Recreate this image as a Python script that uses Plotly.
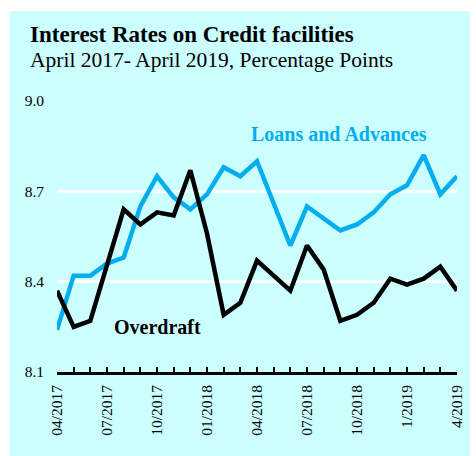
import plotly.graph_objects as go

# Monthly observations, April 2017 to April 2019
months = [
    "04/2017", "05/2017", "06/2017", "07/2017", "08/2017", "09/2017",
    "10/2017", "11/2017", "12/2017", "01/2018", "02/2018", "03/2018",
    "04/2018", "05/2018", "06/2018", "07/2018", "08/2018", "09/2018",
    "10/2018", "11/2018", "12/2018", "1/2019", "2/2019", "3/2019", "4/2019",
]
tick_labels = ["04/2017", "07/2017", "10/2017", "01/2018", "04/2018",
               "07/2018", "10/2018", "1/2019", "4/2019"]

loans_advances = [8.24, 8.42, 8.42, 8.46, 8.48, 8.65, 8.75, 8.68, 8.64,
                  8.69, 8.78, 8.75, 8.80, 8.66, 8.52, 8.65, 8.61, 8.57,
                  8.59, 8.63, 8.69, 8.72, 8.82, 8.69, 8.75]
overdraft = [8.37, 8.25, 8.27, 8.45, 8.64, 8.59, 8.63, 8.62, 8.77,
             8.56, 8.29, 8.33, 8.47, 8.42, 8.37, 8.52, 8.44, 8.27,
             8.29, 8.33, 8.41, 8.39, 8.41, 8.45, 8.37]

y_ticks = [8.1, 8.4, 8.7, 9.0]

W, H = 476, 456
ML, MR, MT, MB = 57, 11, 101, 84
PW, PH = W - ML - MR, H - MT - MB

BG = "#CCFFFF"
BLUE = "#00AEEF"
SERIF = "Liberation Serif, Times New Roman, serif"


def px_x(px):
    return (px - ML) / PW


def px_y(py):
    return (H - MB - py) / PH


fig = go.Figure()
fig.add_trace(go.Scatter(x=months, y=loans_advances, mode="lines",
                         line=dict(color=BLUE, width=4.5),
                         name="Loans and Advances", hoverinfo="x+y"))
fig.add_trace(go.Scatter(x=months, y=overdraft, mode="lines",
                         line=dict(color="black", width=4.5),
                         name="Overdraft", hoverinfo="x+y"))

# cyan panel behind everything, leaving a thin white strip top and left
fig.add_shape(type="rect", xref="paper", yref="paper", layer="below",
              x0=px_x(9), x1=px_x(W + 2), y0=px_y(H + 2), y1=px_y(11),
              fillcolor=BG, line=dict(width=0))

fig.add_annotation(text="<b>Interest Rates on Credit facilities</b>",
                   xref="paper", yref="paper", x=px_x(27), y=px_y(35),
                   xanchor="left", yanchor="middle", showarrow=False,
                   font=dict(family=SERIF, size=23, color="black"))
fig.add_annotation(text="April 2017- April 2019, Percentage Points",
                   xref="paper", yref="paper", x=px_x(27), y=px_y(60),
                   xanchor="left", yanchor="middle", showarrow=False,
                   font=dict(family=SERIF, size=21.5, color="black"))
fig.add_annotation(text="<b>Loans and Advances</b>",
                   xref="paper", yref="paper", x=px_x(345), y=px_y(134),
                   xanchor="center", yanchor="middle", showarrow=False,
                   font=dict(family=SERIF, size=20, color=BLUE))
fig.add_annotation(text="<b>Overdraft</b>",
                   xref="paper", yref="paper", x=px_x(160), y=px_y(327),
                   xanchor="center", yanchor="middle", showarrow=False,
                   font=dict(family=SERIF, size=20, color="black"))

fig.update_layout(
    width=W, height=H,
    margin=dict(l=ML, r=MR, t=MT, b=MB, pad=0),
    paper_bgcolor="white", plot_bgcolor=BG,
    showlegend=False,
    font=dict(family=SERIF, color="black"),
)
fig.update_xaxes(
    type="category", range=[0, len(months) - 1],
    tickvals=months,
    ticktext=[m if m in tick_labels else "" for m in months],
    tickangle=-90, tickfont=dict(size=15.5, family=SERIF),
    ticks="inside", ticklen=5, tickwidth=2, tickcolor="black",
    showline=True, linecolor="black", linewidth=2.5,
    showgrid=False, zeroline=False, ticklabelstandoff=4,
)
fig.update_yaxes(
    range=[8.1, 9.0], tickvals=y_ticks,
    ticktext=[f"{v:.1f}" for v in y_ticks],
    tickfont=dict(size=15.5, family=SERIF),
    showgrid=True, gridcolor="white", gridwidth=2.5,
    showline=False, zeroline=False, ticks="", ticklabelstandoff=12,
)

fig.write_html("out.html")
